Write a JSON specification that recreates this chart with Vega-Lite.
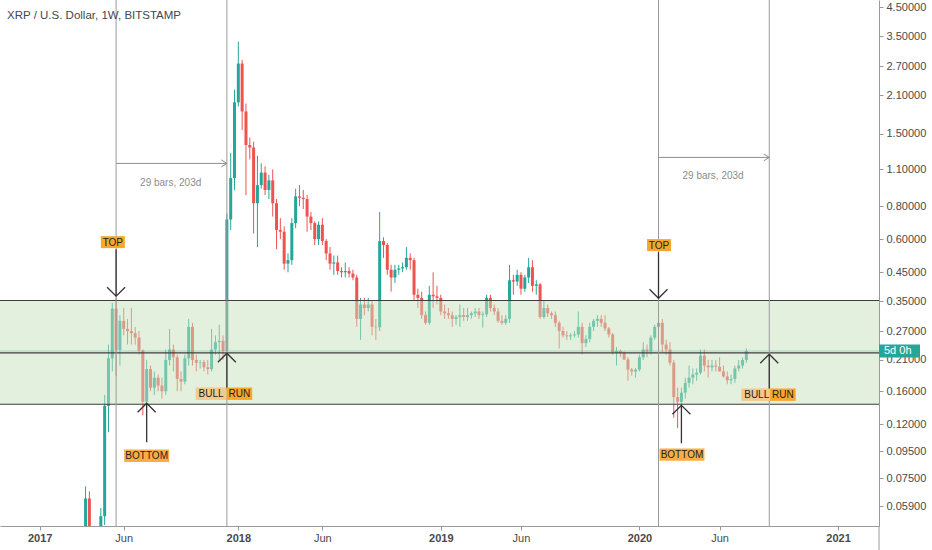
{
  "$schema": "https://vega.github.io/schema/vega-lite/v6.json",
  "width": 879,
  "height": 526,
  "autosize": {"type": "none"},
  "padding": {"left": 0, "top": 0, "right": 53, "bottom": 24},
  "background": "white",
  "config": {"view": {"stroke": null}, "font": "Liberation Sans"},
  "title": {
    "text": "XRP / U.S. Dollar, 1W, BITSTAMP",
    "anchor": "start", "frame": "group", "orient": "top", "baseline": "top",
    "offset": -22, "dx": 7, "fontSize": 11.5, "fontWeight": "normal", "color": "#434651"
  },
  "datasets": {
    "candles": [
      {"d":"2017-03-27","o":0.011,"h":0.070,"l":0.010,"c":0.063},
      {"d":"2017-04-03","o":0.063,"h":0.067,"l":0.030,"c":0.034},
      {"d":"2017-04-10","o":0.034,"h":0.036,"l":0.029,"c":0.031},
      {"d":"2017-04-17","o":0.031,"h":0.040,"l":0.030,"c":0.037},
      {"d":"2017-04-24","o":0.037,"h":0.058,"l":0.036,"c":0.054},
      {"d":"2017-05-01","o":0.054,"h":0.155,"l":0.050,"c":0.141},
      {"d":"2017-05-08","o":0.141,"h":0.24,"l":0.112,"c":0.213},
      {"d":"2017-05-15","o":0.213,"h":0.345,"l":0.19,"c":0.328},
      {"d":"2017-05-22","o":0.328,"h":0.36,"l":0.183,"c":0.229},
      {"d":"2017-05-29","o":0.229,"h":0.31,"l":0.20,"c":0.295},
      {"d":"2017-06-05","o":0.295,"h":0.33,"l":0.26,"c":0.275},
      {"d":"2017-06-12","o":0.275,"h":0.30,"l":0.24,"c":0.27},
      {"d":"2017-06-19","o":0.27,"h":0.33,"l":0.24,"c":0.265},
      {"d":"2017-06-26","o":0.265,"h":0.28,"l":0.24,"c":0.255},
      {"d":"2017-07-03","o":0.255,"h":0.27,"l":0.22,"c":0.228},
      {"d":"2017-07-10","o":0.228,"h":0.23,"l":0.13,"c":0.146},
      {"d":"2017-07-17","o":0.146,"h":0.21,"l":0.14,"c":0.194},
      {"d":"2017-07-24","o":0.194,"h":0.20,"l":0.16,"c":0.165},
      {"d":"2017-07-31","o":0.165,"h":0.19,"l":0.155,"c":0.18},
      {"d":"2017-08-07","o":0.18,"h":0.185,"l":0.16,"c":0.168},
      {"d":"2017-08-14","o":0.168,"h":0.18,"l":0.15,"c":0.16},
      {"d":"2017-08-21","o":0.16,"h":0.23,"l":0.155,"c":0.21},
      {"d":"2017-08-28","o":0.21,"h":0.275,"l":0.20,"c":0.23},
      {"d":"2017-09-04","o":0.23,"h":0.24,"l":0.19,"c":0.215},
      {"d":"2017-09-11","o":0.215,"h":0.22,"l":0.16,"c":0.178},
      {"d":"2017-09-18","o":0.178,"h":0.19,"l":0.16,"c":0.174},
      {"d":"2017-09-25","o":0.174,"h":0.22,"l":0.17,"c":0.213},
      {"d":"2017-10-02","o":0.213,"h":0.30,"l":0.20,"c":0.28},
      {"d":"2017-10-09","o":0.28,"h":0.29,"l":0.20,"c":0.21},
      {"d":"2017-10-16","o":0.21,"h":0.22,"l":0.19,"c":0.205},
      {"d":"2017-10-23","o":0.205,"h":0.21,"l":0.195,"c":0.206},
      {"d":"2017-10-30","o":0.206,"h":0.21,"l":0.19,"c":0.197},
      {"d":"2017-11-06","o":0.197,"h":0.21,"l":0.185,"c":0.194},
      {"d":"2017-11-13","o":0.194,"h":0.275,"l":0.19,"c":0.23},
      {"d":"2017-11-20","o":0.23,"h":0.26,"l":0.22,"c":0.245},
      {"d":"2017-11-27","o":0.245,"h":0.285,"l":0.21,"c":0.248},
      {"d":"2017-12-04","o":0.248,"h":0.26,"l":0.21,"c":0.227},
      {"d":"2017-12-11","o":0.227,"h":0.75,"l":0.22,"c":0.712},
      {"d":"2017-12-18","o":0.712,"h":1.27,"l":0.65,"c":1.02},
      {"d":"2017-12-25","o":1.02,"h":2.20,"l":0.92,"c":1.97},
      {"d":"2018-01-01","o":1.97,"h":3.34,"l":1.90,"c":2.76},
      {"d":"2018-01-08","o":2.76,"h":2.85,"l":1.55,"c":1.82},
      {"d":"2018-01-15","o":1.82,"h":1.95,"l":0.88,"c":1.36},
      {"d":"2018-01-22","o":1.36,"h":1.45,"l":1.20,"c":1.33},
      {"d":"2018-01-29","o":1.33,"h":1.40,"l":0.63,"c":0.82},
      {"d":"2018-02-05","o":0.82,"h":1.24,"l":0.56,"c":0.96},
      {"d":"2018-02-12","o":0.96,"h":1.16,"l":0.93,"c":1.07},
      {"d":"2018-02-19","o":1.07,"h":1.13,"l":0.88,"c":0.92},
      {"d":"2018-02-26","o":0.92,"h":1.05,"l":0.85,"c":1.00},
      {"d":"2018-03-05","o":1.00,"h":1.10,"l":0.73,"c":0.82},
      {"d":"2018-03-12","o":0.82,"h":0.85,"l":0.55,"c":0.65},
      {"d":"2018-03-19","o":0.65,"h":0.72,"l":0.60,"c":0.64},
      {"d":"2018-03-26","o":0.64,"h":0.67,"l":0.46,"c":0.485},
      {"d":"2018-04-02","o":0.485,"h":0.53,"l":0.45,"c":0.50},
      {"d":"2018-04-09","o":0.50,"h":0.72,"l":0.48,"c":0.69},
      {"d":"2018-04-16","o":0.69,"h":0.93,"l":0.66,"c":0.87},
      {"d":"2018-04-23","o":0.87,"h":0.96,"l":0.80,"c":0.86},
      {"d":"2018-04-30","o":0.86,"h":0.92,"l":0.78,"c":0.85},
      {"d":"2018-05-07","o":0.85,"h":0.88,"l":0.64,"c":0.73},
      {"d":"2018-05-14","o":0.73,"h":0.76,"l":0.65,"c":0.69},
      {"d":"2018-05-21","o":0.69,"h":0.70,"l":0.57,"c":0.60},
      {"d":"2018-05-28","o":0.60,"h":0.70,"l":0.57,"c":0.68},
      {"d":"2018-06-04","o":0.68,"h":0.72,"l":0.57,"c":0.59},
      {"d":"2018-06-11","o":0.59,"h":0.60,"l":0.50,"c":0.53},
      {"d":"2018-06-18","o":0.53,"h":0.56,"l":0.46,"c":0.485},
      {"d":"2018-06-25","o":0.485,"h":0.52,"l":0.44,"c":0.49},
      {"d":"2018-07-02","o":0.49,"h":0.52,"l":0.44,"c":0.455},
      {"d":"2018-07-09","o":0.455,"h":0.47,"l":0.43,"c":0.45},
      {"d":"2018-07-16","o":0.45,"h":0.49,"l":0.43,"c":0.455},
      {"d":"2018-07-23","o":0.455,"h":0.47,"l":0.43,"c":0.445},
      {"d":"2018-07-30","o":0.445,"h":0.46,"l":0.42,"c":0.43},
      {"d":"2018-08-06","o":0.43,"h":0.44,"l":0.28,"c":0.30},
      {"d":"2018-08-13","o":0.30,"h":0.36,"l":0.25,"c":0.34},
      {"d":"2018-08-20","o":0.34,"h":0.36,"l":0.31,"c":0.33},
      {"d":"2018-08-27","o":0.33,"h":0.36,"l":0.32,"c":0.34},
      {"d":"2018-09-03","o":0.34,"h":0.35,"l":0.26,"c":0.28},
      {"d":"2018-09-10","o":0.28,"h":0.30,"l":0.25,"c":0.279},
      {"d":"2018-09-17","o":0.279,"h":0.76,"l":0.27,"c":0.59},
      {"d":"2018-09-24","o":0.59,"h":0.61,"l":0.51,"c":0.57},
      {"d":"2018-10-01","o":0.57,"h":0.58,"l":0.44,"c":0.46},
      {"d":"2018-10-08","o":0.46,"h":0.48,"l":0.38,"c":0.43},
      {"d":"2018-10-15","o":0.43,"h":0.48,"l":0.41,"c":0.46},
      {"d":"2018-10-22","o":0.46,"h":0.48,"l":0.44,"c":0.465},
      {"d":"2018-10-29","o":0.465,"h":0.49,"l":0.45,"c":0.47},
      {"d":"2018-11-05","o":0.47,"h":0.56,"l":0.46,"c":0.51},
      {"d":"2018-11-12","o":0.51,"h":0.53,"l":0.46,"c":0.50},
      {"d":"2018-11-19","o":0.50,"h":0.51,"l":0.35,"c":0.37},
      {"d":"2018-11-26","o":0.37,"h":0.39,"l":0.33,"c":0.36},
      {"d":"2018-12-03","o":0.36,"h":0.38,"l":0.30,"c":0.31},
      {"d":"2018-12-10","o":0.31,"h":0.32,"l":0.285,"c":0.29},
      {"d":"2018-12-17","o":0.29,"h":0.40,"l":0.285,"c":0.37},
      {"d":"2018-12-24","o":0.37,"h":0.45,"l":0.33,"c":0.365},
      {"d":"2018-12-31","o":0.365,"h":0.40,"l":0.34,"c":0.36},
      {"d":"2019-01-07","o":0.36,"h":0.37,"l":0.31,"c":0.32},
      {"d":"2019-01-14","o":0.32,"h":0.34,"l":0.30,"c":0.315},
      {"d":"2019-01-21","o":0.315,"h":0.33,"l":0.30,"c":0.31},
      {"d":"2019-01-28","o":0.31,"h":0.32,"l":0.28,"c":0.30},
      {"d":"2019-02-04","o":0.30,"h":0.31,"l":0.285,"c":0.305},
      {"d":"2019-02-11","o":0.305,"h":0.34,"l":0.28,"c":0.31},
      {"d":"2019-02-18","o":0.31,"h":0.33,"l":0.295,"c":0.305},
      {"d":"2019-02-25","o":0.305,"h":0.33,"l":0.295,"c":0.31},
      {"d":"2019-03-04","o":0.31,"h":0.32,"l":0.30,"c":0.315},
      {"d":"2019-03-11","o":0.315,"h":0.33,"l":0.305,"c":0.32},
      {"d":"2019-03-18","o":0.32,"h":0.33,"l":0.30,"c":0.31},
      {"d":"2019-03-25","o":0.31,"h":0.32,"l":0.278,"c":0.312},
      {"d":"2019-04-01","o":0.312,"h":0.37,"l":0.305,"c":0.36},
      {"d":"2019-04-08","o":0.36,"h":0.37,"l":0.32,"c":0.33},
      {"d":"2019-04-15","o":0.33,"h":0.34,"l":0.31,"c":0.32},
      {"d":"2019-04-22","o":0.32,"h":0.33,"l":0.29,"c":0.295},
      {"d":"2019-04-29","o":0.295,"h":0.31,"l":0.285,"c":0.29},
      {"d":"2019-05-06","o":0.29,"h":0.31,"l":0.285,"c":0.30},
      {"d":"2019-05-13","o":0.30,"h":0.48,"l":0.29,"c":0.42},
      {"d":"2019-05-20","o":0.42,"h":0.44,"l":0.37,"c":0.415},
      {"d":"2019-05-27","o":0.415,"h":0.46,"l":0.40,"c":0.44},
      {"d":"2019-06-03","o":0.44,"h":0.45,"l":0.37,"c":0.39},
      {"d":"2019-06-10","o":0.39,"h":0.44,"l":0.38,"c":0.43},
      {"d":"2019-06-17","o":0.43,"h":0.51,"l":0.41,"c":0.47},
      {"d":"2019-06-24","o":0.47,"h":0.50,"l":0.38,"c":0.40},
      {"d":"2019-07-01","o":0.40,"h":0.42,"l":0.37,"c":0.405},
      {"d":"2019-07-08","o":0.405,"h":0.41,"l":0.30,"c":0.305},
      {"d":"2019-07-15","o":0.305,"h":0.35,"l":0.30,"c":0.33},
      {"d":"2019-07-22","o":0.33,"h":0.34,"l":0.305,"c":0.315},
      {"d":"2019-07-29","o":0.315,"h":0.32,"l":0.30,"c":0.31},
      {"d":"2019-08-05","o":0.31,"h":0.32,"l":0.28,"c":0.29},
      {"d":"2019-08-12","o":0.29,"h":0.295,"l":0.232,"c":0.27},
      {"d":"2019-08-19","o":0.27,"h":0.28,"l":0.255,"c":0.26},
      {"d":"2019-08-26","o":0.26,"h":0.27,"l":0.25,"c":0.258},
      {"d":"2019-09-02","o":0.258,"h":0.265,"l":0.25,"c":0.26},
      {"d":"2019-09-09","o":0.26,"h":0.27,"l":0.255,"c":0.262},
      {"d":"2019-09-16","o":0.262,"h":0.32,"l":0.255,"c":0.28},
      {"d":"2019-09-23","o":0.28,"h":0.29,"l":0.22,"c":0.243},
      {"d":"2019-09-30","o":0.243,"h":0.26,"l":0.235,"c":0.252},
      {"d":"2019-10-07","o":0.252,"h":0.29,"l":0.245,"c":0.28},
      {"d":"2019-10-14","o":0.28,"h":0.30,"l":0.27,"c":0.295},
      {"d":"2019-10-21","o":0.295,"h":0.31,"l":0.28,"c":0.30},
      {"d":"2019-10-28","o":0.30,"h":0.31,"l":0.28,"c":0.29},
      {"d":"2019-11-04","o":0.29,"h":0.31,"l":0.27,"c":0.276},
      {"d":"2019-11-11","o":0.276,"h":0.28,"l":0.255,"c":0.262},
      {"d":"2019-11-18","o":0.262,"h":0.265,"l":0.22,"c":0.224},
      {"d":"2019-11-25","o":0.224,"h":0.235,"l":0.20,"c":0.227},
      {"d":"2019-12-02","o":0.227,"h":0.23,"l":0.215,"c":0.223},
      {"d":"2019-12-09","o":0.223,"h":0.226,"l":0.21,"c":0.211},
      {"d":"2019-12-16","o":0.211,"h":0.215,"l":0.175,"c":0.193},
      {"d":"2019-12-23","o":0.193,"h":0.196,"l":0.183,"c":0.19},
      {"d":"2019-12-30","o":0.19,"h":0.196,"l":0.18,"c":0.193},
      {"d":"2020-01-06","o":0.193,"h":0.22,"l":0.19,"c":0.215},
      {"d":"2020-01-13","o":0.215,"h":0.245,"l":0.21,"c":0.23},
      {"d":"2020-01-20","o":0.23,"h":0.24,"l":0.215,"c":0.226},
      {"d":"2020-01-27","o":0.226,"h":0.26,"l":0.22,"c":0.255},
      {"d":"2020-02-03","o":0.255,"h":0.285,"l":0.25,"c":0.28},
      {"d":"2020-02-10","o":0.28,"h":0.34,"l":0.275,"c":0.29},
      {"d":"2020-02-17","o":0.29,"h":0.30,"l":0.225,"c":0.24},
      {"d":"2020-02-24","o":0.24,"h":0.25,"l":0.22,"c":0.23},
      {"d":"2020-03-02","o":0.23,"h":0.245,"l":0.20,"c":0.205},
      {"d":"2020-03-09","o":0.205,"h":0.21,"l":0.127,"c":0.152},
      {"d":"2020-03-16","o":0.152,"h":0.165,"l":0.116,"c":0.146},
      {"d":"2020-03-23","o":0.146,"h":0.165,"l":0.14,"c":0.158},
      {"d":"2020-03-30","o":0.158,"h":0.18,"l":0.15,"c":0.172},
      {"d":"2020-04-06","o":0.172,"h":0.20,"l":0.165,"c":0.18},
      {"d":"2020-04-13","o":0.18,"h":0.195,"l":0.17,"c":0.185},
      {"d":"2020-04-20","o":0.185,"h":0.195,"l":0.175,"c":0.188},
      {"d":"2020-04-27","o":0.188,"h":0.23,"l":0.185,"c":0.218},
      {"d":"2020-05-04","o":0.218,"h":0.23,"l":0.19,"c":0.20},
      {"d":"2020-05-11","o":0.20,"h":0.21,"l":0.18,"c":0.197},
      {"d":"2020-05-18","o":0.197,"h":0.21,"l":0.19,"c":0.20},
      {"d":"2020-05-25","o":0.20,"h":0.21,"l":0.19,"c":0.198},
      {"d":"2020-06-01","o":0.198,"h":0.215,"l":0.19,"c":0.19},
      {"d":"2020-06-08","o":0.19,"h":0.20,"l":0.18,"c":0.182},
      {"d":"2020-06-15","o":0.182,"h":0.19,"l":0.17,"c":0.176},
      {"d":"2020-06-22","o":0.176,"h":0.185,"l":0.17,"c":0.178},
      {"d":"2020-06-29","o":0.178,"h":0.20,"l":0.172,"c":0.195},
      {"d":"2020-07-06","o":0.195,"h":0.21,"l":0.19,"c":0.20},
      {"d":"2020-07-13","o":0.20,"h":0.215,"l":0.195,"c":0.21},
      {"d":"2020-07-20","o":0.21,"h":0.232,"l":0.205,"c":0.227}
    ],
    "levels": [{"p": 0.352}, {"p": 0.2233}, {"p": 0.1429}],
    "band": [{"lo": 0.1429, "hi": 0.352}],
    "last": [{"d": "2021-03-20T02:00:00Z", "p": 0.2269, "t": "5d 0h"}],
    "axisext": [{"d": "2021-03-20T02:00:00Z", "p1": 0.0496, "p2": 0.0402}],
    "vlines": [{"d": "2017-05-22"}, {"d": "2017-12-11"}, {"d": "2020-02-10"}, {"d": "2020-08-31"}],
    "ranges": [
      {"d1": "2017-05-22", "d2": "2017-12-11", "p": 1.159, "td": "2017-08-30", "tp": 0.979, "t": "29 bars, 203d"},
      {"d1": "2020-02-10", "d2": "2020-08-31", "p": 1.221, "td": "2020-05-20", "tp": 1.04, "t": "29 bars, 203d"}
    ],
    "arrows": [
      {"d": "2017-05-22", "from": 0.55, "tip": 0.3655, "dir": "down"},
      {"d": "2020-02-10", "from": 0.536, "tip": 0.359, "dir": "down"},
      {"d": "2017-07-17", "from": 0.1027, "tip": 0.1442, "dir": "up"},
      {"d": "2020-03-23", "from": 0.1018, "tip": 0.1416, "dir": "up"},
      {"d": "2017-12-11", "from": 0.1642, "tip": 0.2227, "dir": "up"},
      {"d": "2020-08-31", "from": 0.1628, "tip": 0.2208, "dir": "up"}
    ],
    "labels": [
      {"d": "2017-05-16", "p": 0.5846, "label": "TOP"},
      {"d": "2020-02-11", "p": 0.5697, "label": "TOP"},
      {"d": "2017-07-17", "p": 0.0913, "label": "BOTTOM"},
      {"d": "2020-03-24", "p": 0.0922, "label": "BOTTOM"},
      {"d": "2017-11-12", "p": 0.1566, "label": "BULL"},
      {"d": "2018-01-03", "p": 0.1566, "label": "RUN"},
      {"d": "2020-08-08", "p": 0.1553, "label": "BULL"},
      {"d": "2020-09-25", "p": 0.1553, "label": "RUN"}
    ]
  },
  "layer": [
    {
      "data": {"name": "candles"},
      "mark": {"type": "rule", "strokeWidth": 1, "clip": true},
      "encoding": {
        "x": {
          "field": "d", "type": "temporal", "title": null,
          "scale": {"type": "utc", "nice": false, "padding": 0, "domain": [
            {"year": 2016, "month": 10, "date": 21, "hours": 5, "minutes": 30, "utc": true},
            {"year": 2021, "month": 3, "date": 20, "hours": 2, "utc": true}
          ]},
          "axis": {
            "orient": "bottom", "grid": false, "title": null,
            "values": [
              {"year": 2017, "month": 1, "date": 2, "utc": true},
              {"year": 2017, "month": 6, "date": 5, "utc": true},
              {"year": 2018, "month": 1, "date": 1, "utc": true},
              {"year": 2018, "month": 6, "date": 4, "utc": true},
              {"year": 2019, "month": 1, "date": 7, "utc": true},
              {"year": 2019, "month": 6, "date": 3, "utc": true},
              {"year": 2020, "month": 1, "date": 6, "utc": true},
              {"year": 2020, "month": 6, "date": 1, "utc": true},
              {"year": 2021, "month": 1, "date": 4, "utc": true}
            ],
            "labelExpr": "utcmonth(datum.value) == 0 ? utcFormat(datum.value, '%Y') : 'Jun'",
            "labelFontWeight": {"condition": {"test": "utcmonth(datum.value) == 0", "value": "bold"}, "value": "normal"},
            "labelFontSize": 11, "labelColor": "#4a4a4a", "labelPadding": 2,
            "labelFlush": false, "labelOverlap": false,
            "domainColor": "#9a9a9a", "tickColor": "#9a9a9a", "tickSize": 4
          }
        },
        "y": {
          "field": "l", "type": "quantitative", "title": null,
          "scale": {"type": "log", "domain": [0.0496, 4.795], "nice": false, "zero": false, "padding": 0},
          "axis": {
            "orient": "right", "grid": false, "title": null,
            "values": [4.5, 3.5, 2.7, 2.1, 1.5, 1.1, 0.8, 0.6, 0.45, 0.35, 0.27, 0.21, 0.16, 0.12, 0.095, 0.075, 0.059],
            "format": ".5f", "labelFontSize": 11, "labelColor": "#4a4a4a", "labelPadding": 3,
            "labelFlush": false, "labelOverlap": false,
            "domainColor": "#9a9a9a", "tickColor": "#9a9a9a", "tickSize": 4
          }
        },
        "y2": {"field": "h"},
        "color": {"condition": {"test": "datum.c >= datum.o", "value": "#26a69a"}, "value": "#ef5350"}
      }
    },
    {
      "data": {"name": "candles"},
      "mark": {"type": "bar", "size": 3, "clip": true},
      "encoding": {
        "x": {"field": "d", "type": "temporal", "title": null},
        "y": {"field": "o", "type": "quantitative", "title": null},
        "y2": {"field": "c"},
        "color": {"condition": {"test": "datum.c >= datum.o", "value": "#26a69a"}, "value": "#ef5350"}
      }
    },
    {
      "data": {"name": "band"},
      "mark": {"type": "rect", "color": "#c7e1bd", "opacity": 0.5},
      "encoding": {
        "y": {"field": "hi", "type": "quantitative", "title": null},
        "y2": {"field": "lo"}
      }
    },
    {
      "data": {"name": "last"},
      "mark": {"type": "rule", "color": "#26a69a", "opacity": 0.35, "strokeWidth": 1},
      "encoding": {"y": {"field": "p", "type": "quantitative", "title": null}}
    },
    {
      "data": {"name": "axisext"},
      "mark": {"type": "rule", "color": "#9a9a9a", "strokeWidth": 1},
      "encoding": {
        "x": {"field": "d", "type": "temporal", "title": null},
        "y": {"field": "p1", "type": "quantitative", "title": null},
        "y2": {"field": "p2"}
      }
    },
    {
      "data": {"name": "levels"},
      "mark": {"type": "rule", "color": "#3d3d3d", "strokeWidth": 1.1},
      "encoding": {"y": {"field": "p", "type": "quantitative", "title": null}}
    },
    {
      "data": {"name": "vlines"},
      "mark": {"type": "rule", "color": "#9a9a9a", "strokeWidth": 1},
      "encoding": {"x": {"field": "d", "type": "temporal", "title": null}}
    },
    {
      "data": {"name": "ranges"},
      "mark": {"type": "rule", "color": "#8c8c8c", "strokeWidth": 1},
      "encoding": {
        "x": {"field": "d1", "type": "temporal", "title": null},
        "x2": {"field": "d2"},
        "y": {"field": "p", "type": "quantitative", "title": null}
      }
    },
    {
      "data": {"name": "ranges"},
      "mark": {"type": "point", "shape": "M-1.6,-1L0,0L-1.6,1", "size": 49, "filled": false, "stroke": "#8c8c8c", "strokeWidth": 1, "opacity": 1},
      "encoding": {
        "x": {"field": "d2", "type": "temporal", "title": null},
        "y": {"field": "p", "type": "quantitative", "title": null}
      }
    },
    {
      "data": {"name": "ranges"},
      "mark": {"type": "text", "fontSize": 10, "color": "#8c8c8c", "align": "center", "baseline": "middle"},
      "encoding": {
        "x": {"field": "td", "type": "temporal", "title": null},
        "y": {"field": "tp", "type": "quantitative", "title": null},
        "text": {"field": "t"}
      }
    },
    {
      "data": {"name": "arrows"},
      "mark": {"type": "rule", "color": "#333333", "strokeWidth": 1.3},
      "encoding": {
        "x": {"field": "d", "type": "temporal", "title": null},
        "y": {"field": "from", "type": "quantitative", "title": null},
        "y2": {"field": "tip"}
      }
    },
    {
      "data": {"name": "arrows"},
      "transform": [{"filter": "datum.dir == 'down'"}],
      "mark": {"type": "point", "shape": "M-1,-1L0,0L1,-1", "size": 324, "filled": false, "stroke": "#333333", "strokeWidth": 1.3, "opacity": 1},
      "encoding": {
        "x": {"field": "d", "type": "temporal", "title": null},
        "y": {"field": "tip", "type": "quantitative", "title": null}
      }
    },
    {
      "data": {"name": "arrows"},
      "transform": [{"filter": "datum.dir == 'up'"}],
      "mark": {"type": "point", "shape": "M-1,1L0,0L1,1", "size": 324, "filled": false, "stroke": "#333333", "strokeWidth": 1.3, "opacity": 1},
      "encoding": {
        "x": {"field": "d", "type": "temporal", "title": null},
        "y": {"field": "tip", "type": "quantitative", "title": null}
      }
    },
    {
      "data": {"name": "labels"},
      "transform": [{"filter": "datum.label == 'TOP'"}],
      "mark": {"type": "point", "shape": "M-1,-0.5L1,-0.5L1,0.5L-1,0.5Z", "size": 576, "filled": true, "color": "#f8a62d", "opacity": 1},
      "encoding": {
        "x": {"field": "d", "type": "temporal", "title": null},
        "y": {"field": "p", "type": "quantitative", "title": null}
      }
    },
    {
      "data": {"name": "labels"},
      "transform": [{"filter": "datum.label == 'BOTTOM'"}],
      "mark": {"type": "point", "shape": "M-1,-0.276L1,-0.276L1,0.276L-1,0.276Z", "size": 2025, "filled": true, "color": "#f8ae45", "opacity": 1},
      "encoding": {
        "x": {"field": "d", "type": "temporal", "title": null},
        "y": {"field": "p", "type": "quantitative", "title": null}
      }
    },
    {
      "data": {"name": "labels"},
      "transform": [{"filter": "datum.label == 'BULL'"}],
      "mark": {"type": "point", "shape": "M-1,-0.404L1,-0.404L1,0.404L-1,0.404Z", "size": 942, "filled": true, "color": "#f3c98c", "opacity": 1},
      "encoding": {
        "x": {"field": "d", "type": "temporal", "title": null},
        "y": {"field": "p", "type": "quantitative", "title": null}
      }
    },
    {
      "data": {"name": "labels"},
      "transform": [{"filter": "datum.label == 'RUN'"}],
      "mark": {"type": "point", "shape": "M-1,-0.484L1,-0.484L1,0.484L-1,0.484Z", "size": 655, "filled": true, "color": "#f8a62d", "opacity": 1},
      "encoding": {
        "x": {"field": "d", "type": "temporal", "title": null},
        "y": {"field": "p", "type": "quantitative", "title": null}
      }
    },
    {
      "data": {"name": "labels"},
      "mark": {"type": "text", "fontSize": 10, "color": "#1e1e1e", "align": "center", "baseline": "middle", "dy": 0.5},
      "encoding": {
        "x": {"field": "d", "type": "temporal", "title": null},
        "y": {"field": "p", "type": "quantitative", "title": null},
        "text": {"field": "label"}
      }
    },
    {
      "data": {"name": "last"},
      "mark": {"type": "point", "shape": "M0,-0.317L2,-0.317L2,0.317L0,0.317Z", "size": 1681, "filled": true, "color": "#26a69a", "opacity": 1},
      "encoding": {
        "x": {"field": "d", "type": "temporal", "title": null},
        "y": {"field": "p", "type": "quantitative", "title": null}
      }
    },
    {
      "data": {"name": "last"},
      "mark": {"type": "text", "fontSize": 11, "color": "white", "align": "left", "baseline": "middle", "dx": 5},
      "encoding": {
        "x": {"field": "d", "type": "temporal", "title": null},
        "y": {"field": "p", "type": "quantitative", "title": null},
        "text": {"field": "t"}
      }
    }
  ]
}
